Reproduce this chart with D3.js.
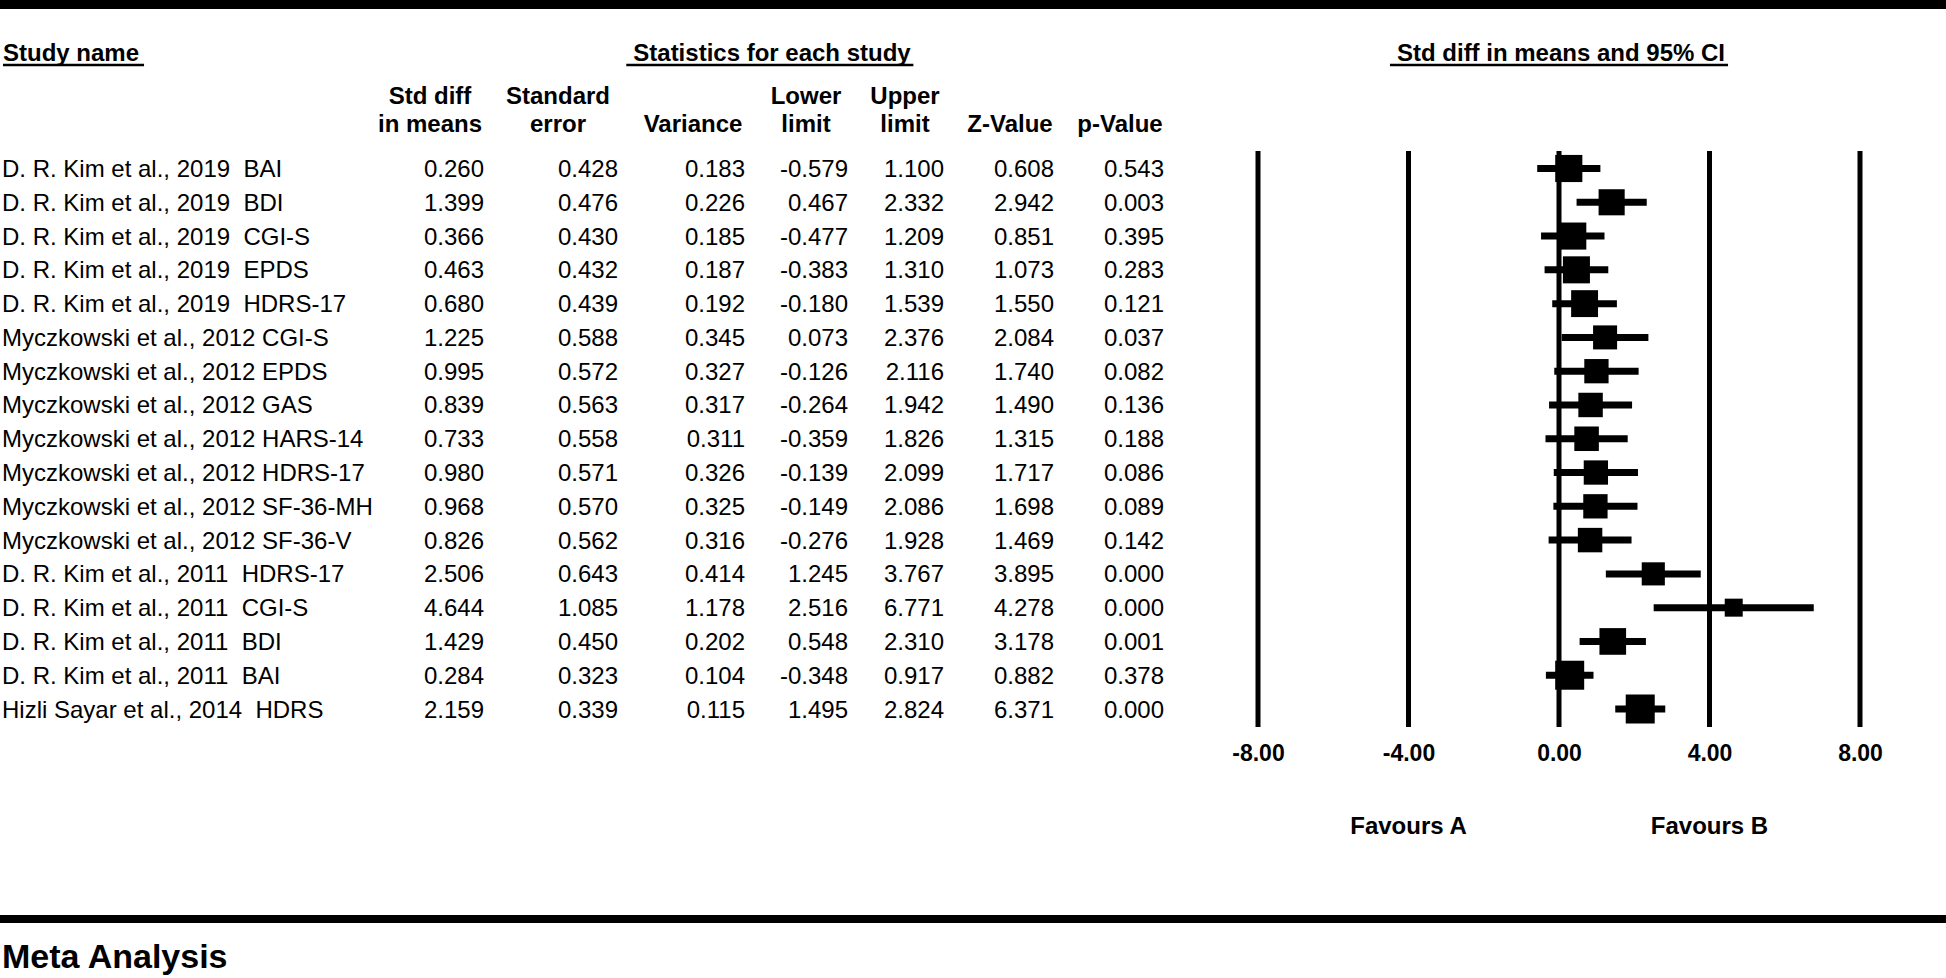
<!DOCTYPE html>
<html>
<head>
<meta charset="utf-8">
<script src="https://cdn.jsdelivr.net/npm/d3@7"></script>
<style>
  html, body { margin: 0; padding: 0; background: #fff; }
  svg { display: block; }
  text { font-family: "Liberation Sans", Arial, Helvetica, sans-serif; fill: #000; }
</style>
</head>
<body>
<svg id="chart" width="1946" height="978"></svg>
<script>
// ---------------- DATA ----------------
const studies = [
  "D. R. Kim et al., 2019  BAI",
  "D. R. Kim et al., 2019  BDI",
  "D. R. Kim et al., 2019  CGI-S",
  "D. R. Kim et al., 2019  EPDS",
  "D. R. Kim et al., 2019  HDRS-17",
  "Myczkowski et al., 2012 CGI-S",
  "Myczkowski et al., 2012 EPDS",
  "Myczkowski et al., 2012 GAS",
  "Myczkowski et al., 2012 HARS-14",
  "Myczkowski et al., 2012 HDRS-17",
  "Myczkowski et al., 2012 SF-36-MH",
  "Myczkowski et al., 2012 SF-36-V",
  "D. R. Kim et al., 2011  HDRS-17",
  "D. R. Kim et al., 2011  CGI-S",
  "D. R. Kim et al., 2011  BDI",
  "D. R. Kim et al., 2011  BAI",
  "Hizli Sayar et al., 2014  HDRS"
];
const stdDiff   = [0.260, 1.399, 0.366, 0.463, 0.680, 1.225, 0.995, 0.839, 0.733, 0.980, 0.968, 0.826, 2.506, 4.644, 1.429, 0.284, 2.159];
const stdErr    = [0.428, 0.476, 0.430, 0.432, 0.439, 0.588, 0.572, 0.563, 0.558, 0.571, 0.570, 0.562, 0.643, 1.085, 0.450, 0.323, 0.339];
const variance  = [0.183, 0.226, 0.185, 0.187, 0.192, 0.345, 0.327, 0.317, 0.311, 0.326, 0.325, 0.316, 0.414, 1.178, 0.202, 0.104, 0.115];
const lowerLim  = [-0.579, 0.467, -0.477, -0.383, -0.180, 0.073, -0.126, -0.264, -0.359, -0.139, -0.149, -0.276, 1.245, 2.516, 0.548, -0.348, 1.495];
const upperLim  = [1.100, 2.332, 1.209, 1.310, 1.539, 2.376, 2.116, 1.942, 1.826, 2.099, 2.086, 1.928, 3.767, 6.771, 2.310, 0.917, 2.824];
const zValue    = [0.608, 2.942, 0.851, 1.073, 1.550, 2.084, 1.740, 1.490, 1.315, 1.717, 1.698, 1.469, 3.895, 4.278, 3.178, 0.882, 6.371];
const pValue    = [0.543, 0.003, 0.395, 0.283, 0.121, 0.037, 0.082, 0.136, 0.188, 0.086, 0.089, 0.142, 0.000, 0.000, 0.001, 0.378, 0.000];

const columnHeaders = [
  ["Std diff", "in means"],
  ["Standard", "error"],
  ["", "Variance"],
  ["Lower", "limit"],
  ["Upper", "limit"],
  ["", "Z-Value"],
  ["", "p-Value"]
];
const axisTicks = [-8, -4, 0, 4, 8];
const favourLabels = [{text: "Favours A", at: -4}, {text: "Favours B", at: 4}];

// ---------------- LAYOUT ----------------
const W = 1946, H = 978;
const svg = d3.select("#chart");
// use a plain hyphen-minus like the original output
const fmt3 = v => d3.format(".3f")(v).replace("\u2212", "-");
const fmt2 = v => d3.format(".2f")(v).replace("\u2212", "-");

const colValues = [stdDiff, stdErr, variance, lowerLim, upperLim, zValue, pValue];
const colRight  = [484, 618, 745, 848, 944, 1054, 1164];
const colCenter = [430, 558, 693, 806, 905, 1010, 1120];

const y = d3.scalePoint().domain(d3.range(studies.length)).range([168.5, 709]);
const x = d3.scaleLinear().domain([-8, 8]).range([1258, 1860]);
const weight = d3.scaleLog().domain([0.85, 8]).range([18, 29]).clamp(true);

// top and bottom bands
svg.append("rect").attr("x", 0).attr("y", 0).attr("width", W).attr("height", 9).attr("fill", "#000");
svg.append("rect").attr("x", 0).attr("y", 915).attr("width", W).attr("height", 8).attr("fill", "#000");

// section titles with underline
function underlined(txt, xPos, anchor, padLeft, padRight) {
  const t = svg.append("text")
    .attr("x", xPos).attr("y", 61)
    .attr("text-anchor", anchor)
    .style("font-size", "24px").style("font-weight", "bold")
    .text(txt);
  const bb = t.node().getBBox();
  svg.append("line")
    .attr("x1", bb.x - padLeft).attr("x2", bb.x + bb.width + padRight)
    .attr("y1", 65).attr("y2", 65)
    .attr("stroke", "#000").attr("stroke-width", 2.5);
}
underlined("Study name", 3, "start", 0, 5);
underlined("Statistics for each study", 772, "middle", 7, 2);
underlined("Std diff in means and 95% CI", 1561, "middle", 7, 3);

// column headers
columnHeaders.forEach((lines, i) => {
  lines.forEach((ln, j) => {
    if (!ln) return;
    svg.append("text")
      .attr("x", colCenter[i]).attr("y", j === 0 ? 104 : 132)
      .attr("text-anchor", "middle")
      .style("font-size", "24px").style("font-weight", "bold")
      .text(ln);
  });
});

// study names
svg.append("g").selectAll("text").data(studies).join("text")
  .attr("x", 2).attr("y", (d, i) => y(i) + 8.5)
  .style("font-size", "24px").style("white-space", "pre")
  .text(d => d);

// numeric columns
colValues.forEach((vals, c) => {
  svg.append("g").selectAll("text").data(vals).join("text")
    .attr("x", colRight[c]).attr("y", (d, i) => y(i) + 8.5)
    .attr("text-anchor", "end")
    .style("font-size", "24px")
    .text(d => fmt3(d));
});

// forest plot vertical reference lines
svg.append("g").selectAll("line").data(axisTicks).join("line")
  .attr("x1", d => x(d)).attr("x2", d => x(d))
  .attr("y1", 151).attr("y2", 727)
  .attr("stroke", "#000").attr("stroke-width", 5);

// axis labels
const axis = d3.axisBottom(x).tickValues(axisTicks).tickFormat(fmt2).tickSize(0).tickPadding(0);
const gAxis = svg.append("g").attr("transform", "translate(0,743)").call(axis);
gAxis.select(".domain").remove();
gAxis.selectAll("text")
  .attr("dy", null).attr("y", 18)
  .style("font-family", "\"Liberation Sans\", Arial, sans-serif")
  .style("font-size", "23px").style("font-weight", "bold").attr("fill", "#000");

// favours labels
svg.append("g").selectAll("text").data(favourLabels).join("text")
  .attr("x", d => x(d.at)).attr("y", 834)
  .attr("text-anchor", "middle")
  .style("font-size", "24px").style("font-weight", "bold")
  .text(d => d.text);

// CI whiskers
svg.append("g").selectAll("line").data(studies).join("line")
  .attr("x1", (d, i) => x(lowerLim[i])).attr("x2", (d, i) => x(upperLim[i]))
  .attr("y1", (d, i) => y(i)).attr("y2", (d, i) => y(i))
  .attr("stroke", "#000").attr("stroke-width", 7);

// squares
svg.append("g").selectAll("rect").data(studies).join("rect")
  .attr("x", (d, i) => x(stdDiff[i]) - weight(1 / variance[i]) / 2)
  .attr("y", (d, i) => y(i) - weight(1 / variance[i]) / 2)
  .attr("width", (d, i) => weight(1 / variance[i]))
  .attr("height", (d, i) => weight(1 / variance[i]))
  .attr("fill", "#000");

// bottom title
svg.append("text").attr("x", 2).attr("y", 968)
  .style("font-size", "34px").style("font-weight", "bold")
  .text("Meta Analysis");
</script>
</body>
</html>
